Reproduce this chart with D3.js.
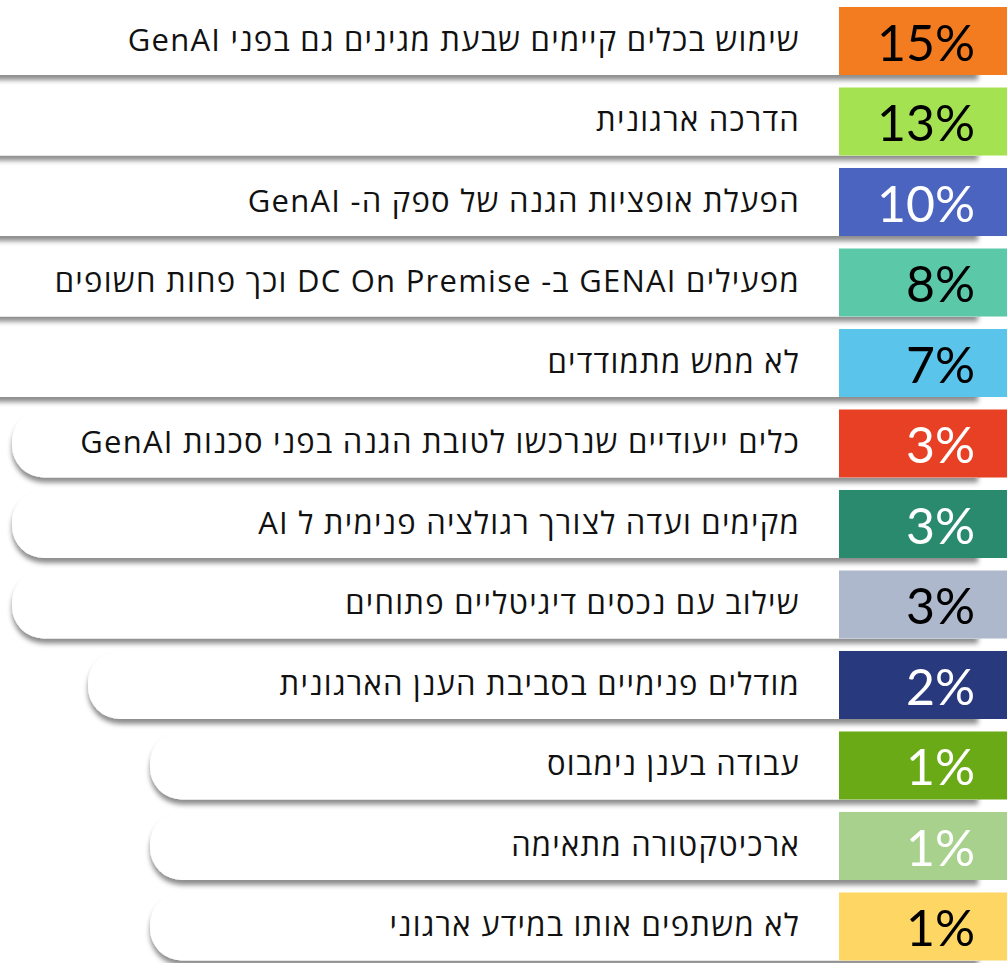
<!DOCTYPE html>
<html>
<head>
<meta charset="utf-8">
<script src="https://cdn.jsdelivr.net/npm/d3@7"></script>
<style>
  body { margin: 0; background: #fff; }
  svg { display: block; }
</style>
</head>
<body>
<svg id="chart" width="1007" height="963"></svg>
<script>
// answers, top to bottom
var labels = [
  "שימוש בכלים קיימים שבעת מגינים גם בפני GenAI",
  "הדרכה ארגונית",
  "הפעלת אופציות הגנה של ספק ה- GenAI",
  "מפעילים  GENAI ב- DC On Premise וכך פחות חשופים",
  "לא ממש מתמודדים",
  "כלים ייעודיים שנרכשו לטובת הגנה בפני סכנות GenAI",
  "מקימים ועדה לצורך רגולציה פנימית ל AI",
  "שילוב עם נכסים דיגיטליים פתוחים",
  "מודלים פנימיים בסביבת הענן הארגונית",
  "עבודה בענן נימבוס",
  "ארכיטקטורה מתאימה",
  "לא משתפים אותו במידע ארגוני"
];
var values = [15, 13, 10, 8, 7, 3, 3, 3, 2, 1, 1, 1];
var boxColors = ["#f47c20", "#a5e251", "#4a64c0", "#5bc8a8", "#5bc4ea", "#e84024",
                 "#2a8a6e", "#adb8cc", "#28397e", "#6aaa17", "#a8d18d", "#fdd663"];
var valueColors = ["#000", "#000", "#fff", "#000", "#000", "#fff",
                   "#fff", "#000", "#fff", "#fff", "#fff", "#000"];

var svg = d3.select("#chart");

var defs = svg.append("defs");
var f = defs.append("filter").attr("id", "shadow")
  .attr("x", "-5%").attr("y", "-30%").attr("width", "110%").attr("height", "170%");
f.append("feDropShadow")
  .attr("dx", 0).attr("dy", 5).attr("stdDeviation", 2.5)
  .attr("flood-color", "#000").attr("flood-opacity", 0.45);

var rows = d3.range(labels.length);

var y = d3.scaleBand()
  .domain(rows)
  .range([7, 960.5])
  .paddingInner(0.155)
  .paddingOuter(0);

// where the white strip starts, driven by the value
var left = d3.scaleLinear()
  .domain([1, 2, 3, 4])
  .range([150, 88, 12, -40])
  .clamp(true);

var boxX = 839, stripEnd = 978, textRight = 800, r = 32;

var row = svg.selectAll("g.row")
  .data(rows)
  .enter().append("g")
  .attr("class", "row")
  .attr("transform", function(i) { return "translate(0," + y(i) + ")"; });

var h = y.bandwidth();

// white strip, rounded on the left
row.append("path")
  .attr("fill", "#fff")
  .attr("filter", "url(#shadow)")
  .attr("d", function(i) {
    var x0 = left(values[i]);
    return "M" + (x0 + r) + ",0 L" + stripEnd + ",0 L" + stripEnd + "," + h +
      " L" + (x0 + r) + "," + h +
      " A" + r + "," + r + " 0 0 1 " + x0 + "," + (h - r) +
      " L" + x0 + "," + r +
      " A" + r + "," + r + " 0 0 1 " + (x0 + r) + ",0 Z";
  });

row.append("rect")
  .attr("x", boxX)
  .attr("y", 0)
  .attr("width", 1007 - boxX + 5)
  .attr("height", h)
  .attr("fill", function(i) { return boxColors[i]; });

row.append("text")
  .attr("x", textRight)
  .attr("y", 44)
  .attr("direction", "rtl")
  .attr("text-anchor", "start")
  .style("font-family", "'Open Sans', 'DejaVu Sans', sans-serif")
  .style("font-size", "31px")
  .style("letter-spacing", "1.25px")
  .attr("fill", "#111")
  .text(function(i) { return labels[i]; });

row.append("text")
  .attr("x", 975)
  .attr("y", 54)
  .attr("text-anchor", "end")
  .style("font-family", "Lato, 'Open Sans', sans-serif")
  .style("font-size", "50px")
  .attr("fill", function(i) { return valueColors[i]; })
  .text(function(i) { return values[i] + "%"; });
</script>
</body>
</html>
